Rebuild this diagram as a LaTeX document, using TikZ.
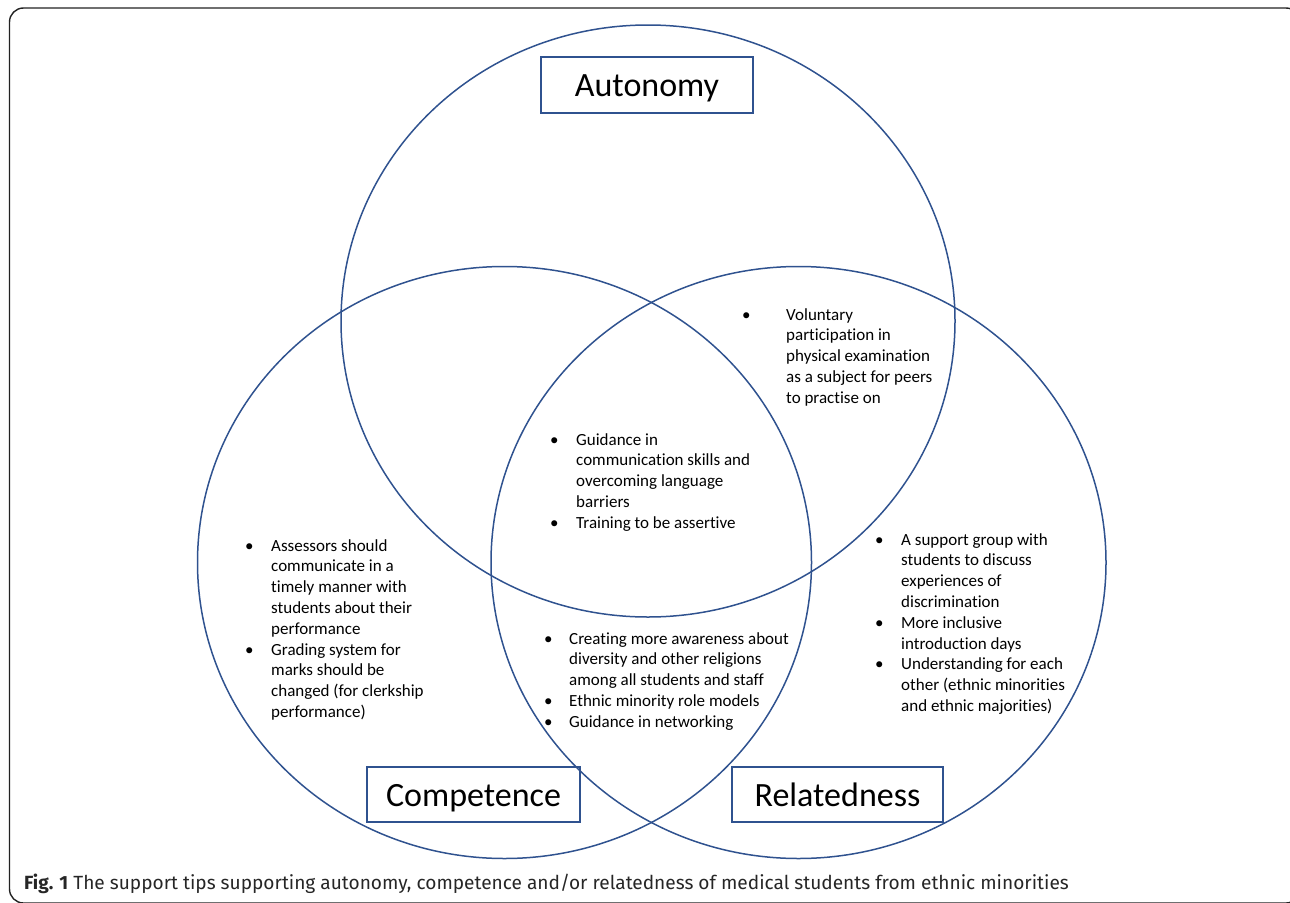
\documentclass[tikz,border=0pt]{standalone}
\usepackage{fontspec}
\setmainfont{Carlito}[RawFeature={-liga;-dlig;-calt;-clig}]
\newfontfamily\capfont{Fira Sans}[Ligatures={NoCommon}]
\definecolor{vennblue}{HTML}{2F528F}
\definecolor{framegray}{HTML}{222222}
\newcommand{\tipsize}{\fontsize{17}{20.8}\selectfont}
\newcommand{\tipitem}[2]{\hangindent=#1\hangafter=1\noindent\makebox[#1][l]{\textbullet}#2\par}
\begin{document}
\begin{tikzpicture}[x=1pt,y=-1pt,
  venn/.style={draw=vennblue,line width=1.5pt},
  labelbox/.style={draw=vennblue,line width=1.3pt,inner sep=0pt,font=\fontsize{34}{40}\selectfont,text=black,text height=30pt,text depth=7pt},
  tipblock/.style={anchor=base west,inner sep=0pt,font=\tipsize,text=black}]
\useasboundingbox (0,0) rectangle (1290,902);
\begin{scope}
\clip (0,0) rectangle (1290,902);
\draw[framegray,line width=1.4pt,rounded corners=14pt] (9.5,8) rectangle (1300,903);
\end{scope}
% circles
\draw[venn] (648,321) ellipse [x radius=307, y radius=296];
\draw[venn] (504.5,562.5) ellipse [x radius=307, y radius=296];
\draw[venn] (798.5,562.5) ellipse [x radius=307.5, y radius=296];
% label boxes
\node[labelbox,minimum width=212pt,minimum height=56pt] (autonomy) at (647,85) {Autonomy};
\node[labelbox,minimum width=213pt,minimum height=55pt] (competence) at (473.5,794.5) {Competence};
\node[labelbox,minimum width=211pt,minimum height=55pt] (relatedness) at (837.5,794.5) {Relatedness};
% tips
\node[tipblock] (tipA) at (742,320) {\parbox[t]{230pt}{\tipsize
\tipitem{44pt}{Voluntary\\participation in\\physical examination\\as a subject for peers\\to practise on}}};
\node[tipblock] (tipACR) at (550,445) {\parbox[t]{240pt}{\tipsize
\tipitem{26pt}{Guidance in\\communication skills and\\overcoming language\\barriers}
\tipitem{26pt}{Training to be assertive}}};
\node[tipblock] (tipC) at (245,551) {\parbox[t]{230pt}{\tipsize
\tipitem{26pt}{Assessors should\\communicate in a\\timely manner with\\students about their\\performance}
\tipitem{26pt}{Grading system for\\marks should be\\changed (for clerkship\\performance)}}};
\node[tipblock] (tipR) at (875,545) {\parbox[t]{230pt}{\tipsize
\tipitem{26pt}{A support group with\\students to discuss\\experiences of\\discrimination}
\tipitem{26pt}{More inclusive\\introduction days}
\tipitem{26pt}{Understanding for each\\other (ethnic minorities\\and ethnic majorities)}}};
\node[tipblock] (tipCR) at (544,644) {\parbox[t]{290pt}{\tipsize
\tipitem{25pt}{Creating more awareness about\\diversity and other religions\\among all students and staff}
\tipitem{25pt}{Ethnic minority role models}
\tipitem{25pt}{Guidance in networking}}};
% caption
\node[anchor=base west,inner sep=0pt,font=\capfont\fontsize{19.1}{22}\selectfont,text=black!85] (caption) at (24,889)
  {\textbf{Fig. 1} The support tips supporting autonomy, competence and/or relatedness of medical students from ethnic minorities};
\end{tikzpicture}
\end{document}
